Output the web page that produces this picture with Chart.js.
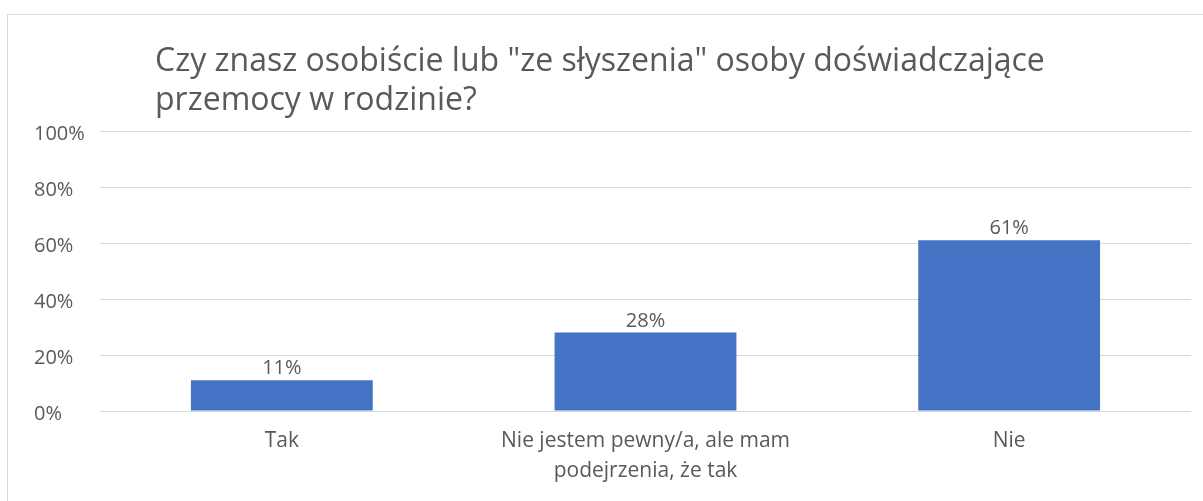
<!DOCTYPE html>
<html lang="pl">
<head>
    <meta charset="UTF-8">
    <title>Przemoc w rodzinie</title>
    <script src="https://cdn.jsdelivr.net/npm/chart.js"></script>
</head>
<body style="margin: 0; background: #ffffff; width: 1203px; height: 501px; overflow: hidden;">
    <div style="position: absolute; left: 7px; top: 14px; width: 1210px; height: 500px; border: 1px solid #d9d9d9;"></div>
    <div style="position: absolute; left: 0; top: 0; width: 1203px; height: 501px;">
        <canvas id="chart"></canvas>
    </div>

    <script>
        const titleLines = ['Czy znasz osobiście lub "ze słyszenia" osoby doświadczające', 'przemocy w rodzinie?'];
        const categories = ['Tak', ['Nie jestem pewny/a, ale mam', 'podejrzenia, że tak'], 'Nie'];
        const values = [11, 28, 61];
        const yTicks = [0, 20, 40, 60, 80, 100];

        const fontFamily = '"Open Sans", sans-serif';
        const textColor = '#595959';

        // title left-aligned a bit inside the plot area, like the original
        const titlePlugin = {
            id: 'leftTitle',
            afterDraw(chart) {
                const ctx = chart.ctx;
                ctx.save();
                ctx.font = '32px ' + fontFamily;
                ctx.fillStyle = textColor;
                ctx.textBaseline = 'alphabetic';
                ctx.textAlign = 'left';
                ctx.fillText(titleLines[0], 155, 71);
                ctx.fillText(titleLines[1], 155, 110);
                ctx.restore();
            }
        };

        const valueLabels = {
            id: 'valueLabels',
            afterDatasetsDraw(chart) {
                const ctx = chart.ctx;
                const meta = chart.getDatasetMeta(0);
                ctx.save();
                ctx.font = '20px ' + fontFamily;
                ctx.fillStyle = textColor;
                ctx.textAlign = 'center';
                ctx.textBaseline = 'alphabetic';
                meta.data.forEach((bar, i) => {
                    ctx.fillText(values[i] + '%', bar.x, bar.y - 6);
                });
                ctx.restore();
            }
        };

        new Chart(document.getElementById('chart'), {
            type: 'bar',
            data: {
                labels: categories,
                datasets: [{
                    data: values,
                    backgroundColor: '#4472c4',
                    categoryPercentage: 1.0,
                    barPercentage: 0.5
                }]
            },
            options: {
                responsive: true,
                maintainAspectRatio: false,
                animation: false,
                layout: {
                    padding: { left: 34, right: 12, top: 131, bottom: 0 }
                },
                plugins: {
                    legend: { display: false },
                    tooltip: { enabled: false }
                },
                scales: {
                    x: {
                        grid: { display: false, drawTicks: false },
                        border: { display: false },
                        ticks: {
                            color: textColor,
                            font: { family: fontFamily, size: 21, lineHeight: 1.43 },
                            padding: 15,
                            maxRotation: 0
                        },
                        afterFit(scale) { scale.height = 90; }
                    },
                    y: {
                        min: 0,
                        max: 100,
                        afterBuildTicks(scale) {
                            scale.ticks = yTicks.map(v => ({ value: v }));
                        },
                        grid: { color: '#d9d9d9', lineWidth: 1, drawTicks: false },
                        border: { display: false },
                        ticks: {
                            color: textColor,
                            font: { family: fontFamily, size: 20 },
                            crossAlign: 'far',
                            padding: 0,
                            labelOffset: 3,
                            callback: v => v + '%'
                        },
                        afterFit(scale) { scale.width = 66; }
                    }
                }
            },
            plugins: [titlePlugin, valueLabels]
        });
    </script>
</body>
</html>
